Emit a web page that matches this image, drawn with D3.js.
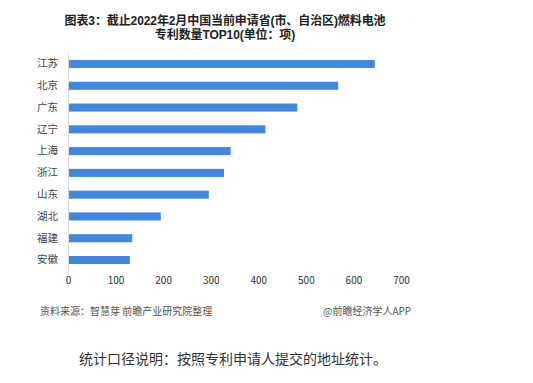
<!DOCTYPE html>
<html><head><meta charset="utf-8">
<script src="https://cdn.jsdelivr.net/npm/d3@7/dist/d3.min.js"></script>
<style>body{margin:0;background:#fff}svg{display:block}</style>
</head><body>
<svg id="c" width="533" height="383"></svg>
<script>
const categories = ["江苏","北京","广东","辽宁","上海","浙江","山东","湖北","福建","安徽"];
const values = [645, 568, 482, 415, 342, 328, 296, 195, 135, 130];
const xTicks = [0,100,200,300,400,500,600,700];
const titleLines = ["图表3：截止2022年2月中国当前申请省(市、自治区)燃料电池","专利数量TOP10(单位：项)"];
const sourceText = "资料来源：智慧芽 前瞻产业研究院整理";
const brandText = "@前瞻经济学人APP";
const noteText = "统计口径说明：按照专利申请人提交的地址统计。";

const svg = d3.select("#c");
const font = "'Noto Sans CJK SC', 'Noto Sans', sans-serif";
const titleFont = "'Liberation Sans', 'Noto Sans CJK SC', sans-serif";
const x = d3.scaleLinear().domain([0,700]).range([68,401]);
const y = d3.scaleBand().domain(categories).range([53,271]).paddingInner(0.63).paddingOuter(0.32);

// title
svg.selectAll("text.title").data(titleLines).join("text")
  .attr("class","title").attr("x",225).attr("y",(d,i)=>25+i*13.6)
  .attr("text-anchor","middle").attr("font-family",titleFont).attr("font-weight","bold")
  .attr("font-size",12).attr("fill","#222").attr("letter-spacing",-0.1).text(d=>d);

// bars
svg.selectAll("rect.bar").data(values).join("rect").attr("class","bar")
  .attr("x",x(0)).attr("y",(d,i)=>y(categories[i]))
  .attr("width",d=>x(d)-x(0)).attr("height",y.bandwidth())
  .attr("fill","#4286E0");

// y axis line
svg.append("line").attr("x1",68.5).attr("x2",68.5).attr("y1",53).attr("y2",271)
  .attr("stroke","#d9d9d9").attr("stroke-width",1);

// category labels
const yAxis = d3.axisLeft(y).tickSize(0).tickPadding(10);
const gy = svg.append("g").attr("transform","translate(68,0)").call(yAxis);
gy.select(".domain").remove();
gy.selectAll("text").attr("font-family",font).attr("font-size",10.5).attr("fill","#444");

// x axis ticks
const xAxis = d3.axisBottom(x).tickValues(xTicks).tickSize(0).tickPadding(0);
const gx = svg.append("g").attr("transform","translate(0,277)").call(xAxis);
gx.select(".domain").remove();
gx.selectAll("text").attr("font-family",font).attr("font-size",10).attr("fill","#333");

// source
svg.append("text").attr("x",40).attr("y",315).attr("font-family",font).attr("font-size",10)
  .attr("fill","#555").text(sourceText);
svg.append("text").attr("x",323).attr("y",315).attr("font-family",font).attr("font-size",10)
  .attr("fill","#555").text(brandText);

// note
svg.append("text").attr("x",79).attr("y",364).attr("font-family",font).attr("font-size",14)
  .attr("fill","#333").text(noteText);
</script>
</body></html>
